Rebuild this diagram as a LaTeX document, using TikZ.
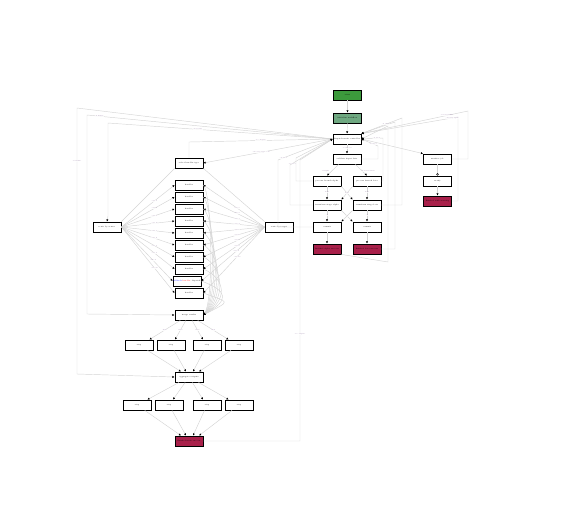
\documentclass[tikz,border=0pt]{standalone}
\usetikzlibrary{arrows.meta,positioning}
\definecolor{gstart}{HTML}{3C9A3C}
\definecolor{gsage}{HTML}{6FA881}
\definecolor{rend}{HTML}{A8204A}
\definecolor{edgec}{HTML}{D4D4D4}
\definecolor{labc}{HTML}{8A6E9A}
\tikzset{
  box/.style={draw=black,line width=0.8pt,fill=white,minimum width=28pt,minimum height=10pt,inner sep=0pt,font=\fontsize{1.8}{2}\selectfont},
  startbox/.style={box,fill=gstart},
  sagebox/.style={box,fill=gsage},
  endbox/.style={box,fill=rend,text=black},
  conn/.style={draw=edgec,line width=0.45pt,-{Latex[length=2.2pt,width=2.2pt,color=black]}},
  plain/.style={draw=edgec,line width=0.45pt},
  odiam/.style={draw=edgec,line width=0.45pt,-{Circle[open,length=2.4pt,width=2.4pt,color=black]}},
  lab/.style={font=\fontsize{1.5}{1.8}\selectfont,text=labc,inner sep=0.3pt,fill=white,fill opacity=0.8,text opacity=1}
}
\begin{document}
\begin{tikzpicture}[x=1pt,y=-1pt]
\useasboundingbox (0,0) rectangle (581,512);
% ---------- right column ----------
\node[startbox] (n1) at (347.5,95) {start};
\node[sagebox] (n2) at (347.5,118) {initialize workflow};
\node[box] (n3) at (347,139) {dispatch main controller};
\node[box] (n4) at (347,159) {validate input data};
\node[box] (n5) at (327,181) {process branch alpha};
\node[box] (n6) at (367,181) {process branch beta};
\node[box] (n7) at (327,205) {transform stage alpha};
\node[box] (n8) at (367,205) {transform stage beta};
\node[box] (n9) at (327,227) {commit};
\node[box] (n10) at (367,227) {commit};
\node[endbox] (n11) at (327,249) {finished alpha success};
\node[endbox] (n12) at (367,249) {finished beta success};
\node[box] (n13) at (437.5,159) {monitor job};
\node[box] (n14) at (437.5,181) {notify};
\node[endbox] (n15) at (437.5,201) {finished with warning};
% ---------- left group ----------
\node[box] (a) at (189,163) {select handler type};
\node[box] (l) at (107,227) {route by source};
\node[box] (r) at (279,227) {route by target};
\foreach \i/\y in {1/185,2/197,3/209,4/221,5/233,6/245,7/257,8/269,10/293}{
  \node[box] (c\i) at (189,\y) {handler};
}
\node[box] (c9) at (187,281) {\textcolor{blue}{fallback} \textcolor{red}{handler} dispatch};
\node[box] (b) at (189,315) {merge results};
\node[box] (p1) at (139,345) {step};
\node[box] (p2) at (171,345) {step};
\node[box] (p3) at (207,345) {step};
\node[box] (p4) at (239,345) {step};
\node[box] (cc) at (189,377) {aggregate outputs};
\node[box] (q1) at (137,405) {step};
\node[box] (q2) at (169,405) {step};
\node[box] (q3) at (207,405) {step};
\node[box] (q4) at (239,405) {step};
\node[endbox] (d) at (189,441) {finished main success};

% ---------- right column edges ----------
\draw[conn] (n1) -- (n2);
\draw[conn] (n2) -- (n3);
\draw[conn] (n3) -- node[lab,pos=0.45]{on success} (n4);
\draw[conn] (n4.south west) ++(6,0) -- node[lab,pos=0.6,xshift=-6pt]{if alpha} (n5.north);
\draw[conn] (n4.south east) ++(-6,0) -- node[lab,pos=0.6,xshift=6pt]{if beta branch} (n6.north);
\draw[conn] (n5.south) -- node[lab,pos=0.45]{next} (n7.north);
\draw[conn] (n5.south east) -- (n8.north west);
\draw[conn] (n6.south west) -- node[lab,pos=0.5]{next} (n7.north east);
\draw[conn] (n6.south) -- node[lab,pos=0.45]{next} (n8.north);
\draw[conn] (n7.south) -- node[lab,pos=0.45]{ok} (n9.north);
\draw[conn] (n7.south east) -- node[lab,pos=0.5]{ok} (n10.north west);
\draw[conn] (n8.south west) -- (n9.north east);
\draw[conn] (n8.south) -- node[lab,pos=0.45]{ok} (n10.north);
\draw[conn] (n9) -- (n11);
\draw[conn] (n10) -- (n12);
\draw[conn] (n3.east) -- (n13.north west);
\draw[odiam] (n13) -- (n14);
\draw[conn] (n14) -- (n15);

% loops on the right
\draw[conn] (n13.east) -- (468,159) -- (468,111) -- node[lab,pos=0.2]{on retry limit} (n3.north east);
\draw[conn] (n15.east) -- (458,201) -- (458,117) -- node[lab,pos=0.06]{on retry again} (n3.north east);
\draw[conn] (n12.east) -- (395,249) -- (395,122) -- (n3.north east);
\draw[conn] (n11.south east) -- (388,262) -- (388,126) -- (n3.east);
\draw[conn] (n8.east) -- (402,205) -- (402,118) -- node[lab,pos=0.4]{on error} (n3.north east);
\draw[conn] (n6.east) -- (383,181) -- (383,138) -- node[lab,pos=0.3]{on error} (n3.east);
\draw[conn] (n4.east) -- (378,159) -- (378,146) -- node[lab,pos=0.3]{on error} (n3.east);
% loops on the left of column
\draw[conn] (n9.west) -- (278,227) -- (278,160) -- node[lab,pos=0.1]{on error} (n3.west);
\draw[conn] (n7.west) -- (290,205) -- (290,165) -- node[lab,pos=0.05]{on error} (n3.west);
\draw[conn] (n5.west) -- (296,181) -- (296,158) -- (n3.west);

% ---------- A edges ----------
\draw[conn] (n3.west) -- node[lab,pos=0.55]{select by type code} (a.east);
\draw[conn] (a.north) -- (189,142) -- node[lab,pos=0.5]{on complete} (n3.west);
\draw[plain] (a.south west) -- (l.north east);
\draw[plain] (a.south east) -- (r.north west);

% big left loops
\draw[conn] (n3.west) -- node[lab,pos=0.6]{on restart} (108,123) -- (108,216) -- (l.north);
\draw[conn] (n3.west) -- node[lab,pos=0.95]{on failure} (87,115) -- (87,314) -- (b.west);
\draw[conn] (n3.west) -- (77,108) -- node[lab,pos=0.2]{on failure} (77,374) -- (cc.west);

% fan from L and R to column
\foreach \i in {1,...,10}{
  \draw[conn] (l.east) -- node[lab,pos=0.62]{case \i} (c\i.west);
  \draw[conn] (r.west) -- node[lab,pos=0.45]{case \i} (c\i.east);
}
% column to B
\foreach \i/\k in {1/1,2/2,3/3,4/4,5/5,6/6,7/7,8/8,9/9,10/10}{
  \draw[conn] (c\i.east) .. controls ({210+2*\k},{183+12*\k}) and ({212+2*\k},300) .. (b.east);
}
% B to row1
\draw[conn] (b) -- node[lab,pos=0.5]{then} ([xshift=-4pt]p1.north east);
\draw[conn] (b) -- node[lab,pos=0.5]{then} ([xshift=4pt]p2.north);
\draw[conn] (b) -- node[lab,pos=0.5]{then} ([xshift=-4pt]p3.north);
\draw[conn] (b) -- node[lab,pos=0.5]{then} ([xshift=4pt]p4.north west);
\draw[conn] (p1) -- ([xshift=-8pt]cc.north);
\draw[conn] (p2) -- ([xshift=-3pt]cc.north);
\draw[conn] (p3) -- ([xshift=4pt]cc.north);
\draw[conn] (p4) -- ([xshift=10pt]cc.north);
\draw[conn] (cc) -- ([xshift=-4pt]q1.north east);
\draw[conn] (cc) -- ([xshift=4pt]q2.north);
\draw[conn] (cc) -- ([xshift=-4pt]q3.north);
\draw[conn] (cc) -- ([xshift=4pt]q4.north west);
\draw[conn] (q1) -- ([xshift=-8pt]d.north);
\draw[conn] (q2) -- ([xshift=-3pt]d.north);
\draw[conn] (q3) -- ([xshift=4pt]d.north);
\draw[conn] (q4) -- ([xshift=10pt]d.north);
% D back to n3
\draw[conn] (d.east) -- (300,441) -- node[lab,pos=0.38]{on complete} (300,160) -- (n3.west);
\end{tikzpicture}
\end{document}
